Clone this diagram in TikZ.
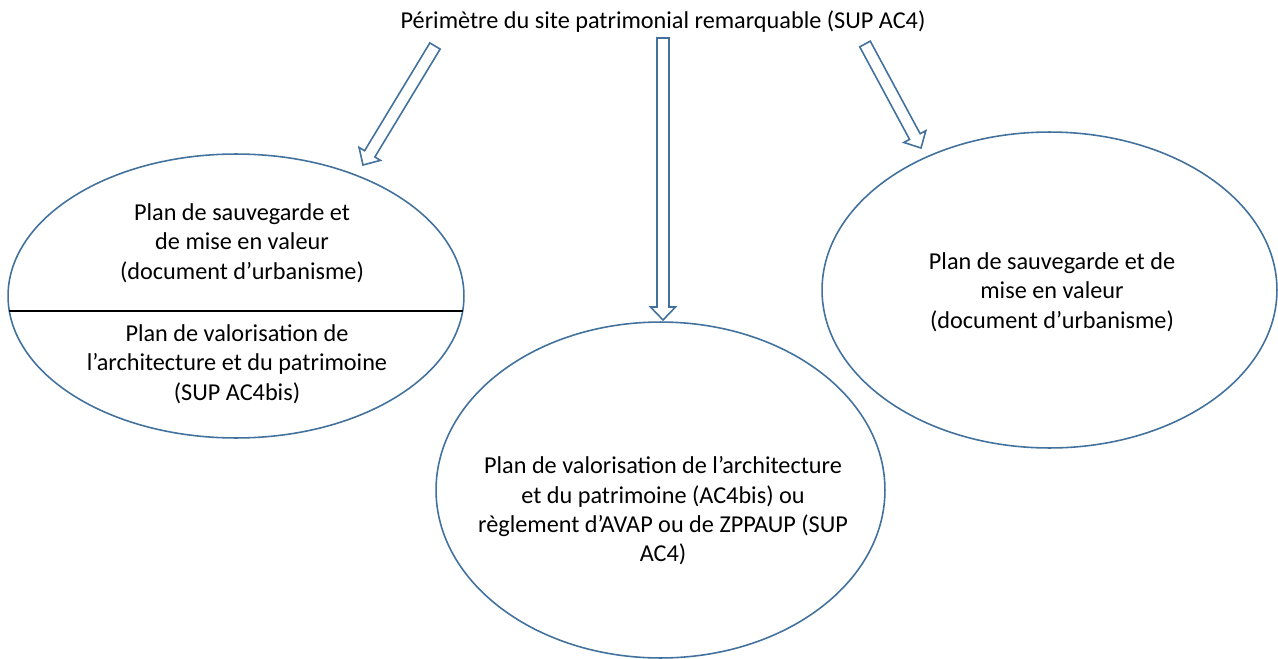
\documentclass[tikz,border=0pt]{standalone}
\usepackage{fontspec}
\setmainfont{Carlito}
\usetikzlibrary{shapes.geometric,calc}
\definecolor{edge}{RGB}{65,113,156}
\tikzset{
  oval/.style={draw=edge, line width=0.9pt, ellipse, inner sep=0pt},
  txt/.style={align=center, font=\fontsize{13.8}{16.7}\selectfont, inner sep=0pt},
  hollow/.style={draw=edge, line width=0.9pt, fill=white, line join=miter}
}
\newcommand{\blockarrow}[2]{%
  \coordinate (#1-b) at ($(#2)!0.26cm!(#1)$);
  \draw[hollow] ($(#1)!0.12cm!90:(#2)$) -- ($(#1-b)!0.12cm!90:(#2)$)
    -- ($(#1-b)!0.25cm!90:(#2)$) -- (#2) -- ($(#1-b)!0.25cm!-90:(#2)$)
    -- ($(#1-b)!0.12cm!-90:(#2)$) -- ($(#1)!0.12cm!-90:(#2)$) -- cycle;}
\begin{document}
\begin{tikzpicture}[x=0.02cm, y=-0.02cm]
\useasboundingbox (0,0) rectangle (1278,659);
% title
\node[txt] (title) at (663,22) {Périmètre du site patrimonial remarquable (SUP AC4)};
% ellipses
\node[oval, minimum width=9.12cm, minimum height=5.68cm] (left) at (236,296) {};
\node[oval, minimum width=8.98cm, minimum height=6.72cm] (mid) at (660.5,490) {};
\node[oval, minimum width=9.10cm, minimum height=6.32cm] (right) at (1049.5,290) {};
% separator in left ellipse
\coordinate (sepL) at (9.3,311);
\coordinate (sepR) at (462.7,311);
\draw[black, line width=0.9pt] (sepL) -- (sepR);
% texts
\node[txt] (lt) at (242,243) {Plan de sauvegarde et\\de mise en valeur\\(document d’urbanisme)};
\node[txt] (lb) at (237,364) {Plan de valorisation de\\l’architecture et du patrimoine\\(SUP AC4bis)};
\node[txt] (mt) at (663,511) {Plan de valorisation de l’architecture\\et du patrimoine (AC4bis) ou\\règlement d’AVAP ou de ZPPAUP (SUP\\AC4)};
\node[txt] (rt) at (1052,292) {Plan de sauvegarde et de\\mise en valeur\\(document d’urbanisme)};
% arrows
\coordinate (aT) at (435,46);
\coordinate (aP) at (363,165);
\coordinate (bT) at (663,38);
\coordinate (bP) at (663,320);
\coordinate (cT) at (865,44);
\coordinate (cP) at (921,148);
\blockarrow{aT}{aP}
\blockarrow{bT}{bP}
\blockarrow{cT}{cP}
\end{tikzpicture}
\end{document}
